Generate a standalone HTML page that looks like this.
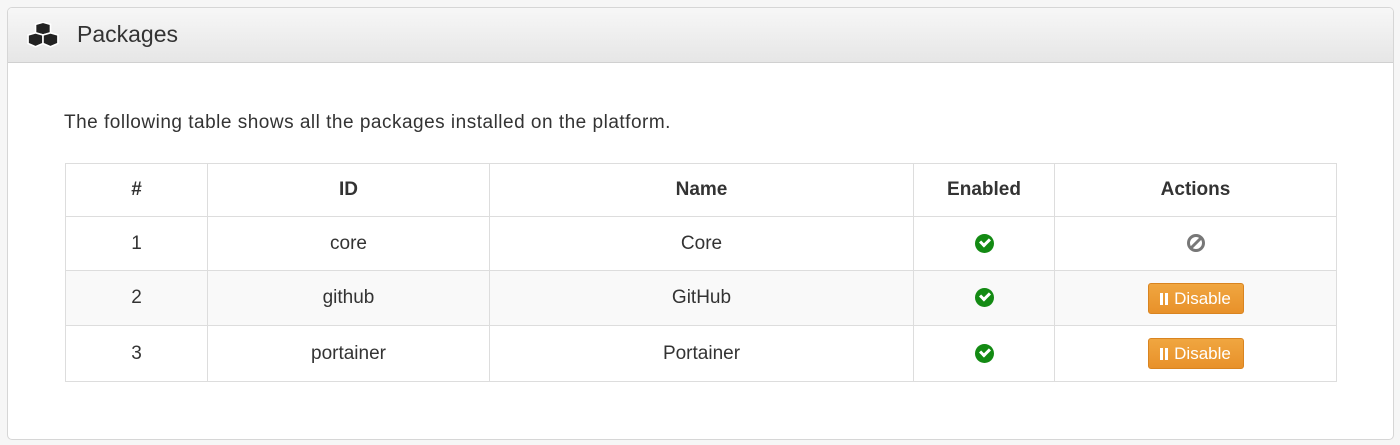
<!DOCTYPE html>
<html><head><style>
*{box-sizing:border-box;margin:0;padding:0}
body{width:1400px;height:445px;background:#f6f6f6;font-family:"Liberation Sans",sans-serif;color:#333;position:relative;overflow:hidden}
.panel{position:absolute;left:7px;top:7px;width:1387px;height:433px;border:1px solid #d6d6d6;border-radius:5px;background:#fff;overflow:hidden}
.hd{height:55px;background:linear-gradient(#f7f7f7,#e6e6e6);border-bottom:1px solid #d0d0d0;position:relative}
.hd .t{position:absolute;left:69px;top:13px;font-size:23px;color:#333}
.intro{position:absolute;left:56px;top:104px;font-size:19px;letter-spacing:0.5px;color:#333}
table{position:absolute;left:57px;top:155px;border-collapse:collapse;font-size:19px}
td,th{border:1px solid #ddd;text-align:center;vertical-align:middle}
th{height:53px;font-weight:bold}
tr.r td{height:54px}
tr.s td{background:#f9f9f9;height:55px}
tr.u td{height:56px}
.btn{display:inline-block;width:96px;height:31px;line-height:29px;background:linear-gradient(#f0a640,#e8912a);border:1px solid #d98420;border-radius:3px;color:#fff;font-size:17px}
.pz{display:inline-block;width:3px;height:12px;background:#fff;margin-right:2px;vertical-align:-1px}
.chk{display:inline-block;width:19px;height:19px;border-radius:50%;background:#138a13;vertical-align:middle;position:relative}
.chk:after{content:"";position:absolute;left:5px;top:4px;width:7px;height:4px;border-left:3px solid #fff;border-bottom:3px solid #fff;transform:rotate(-45deg)}
</style></head><body>
<div class="panel">
<div class="hd">
<svg style="position:absolute;left:19px;top:14px" width="32" height="26" viewBox="0 0 30 24"><g fill="#222" stroke="#fff" stroke-width="1.5"><path d="M8 2 L15 0 L22 2 L22 10 L15 12 L8 10Z"/><path d="M1 12 L8 10 L15 12 L15 20 L8 23 L1 20Z"/><path d="M15 12 L22 10 L29 12 L29 20 L22 23 L15 20Z"/></g></svg>
<div class="t">Packages</div></div>
<div class="intro">The following table shows all the packages installed on the platform.</div>
<table>
<tr><th style="width:142px">#</th><th style="width:282px">ID</th><th style="width:424px">Name</th><th style="width:141px">Enabled</th><th style="width:282px">Actions</th></tr>
<tr class="r"><td>1</td><td>core</td><td>Core</td><td><span class="chk"></span></td><td><svg width="20" height="20" viewBox="0 0 20 20" style="vertical-align:middle"><circle cx="10" cy="10" r="7.5" fill="none" stroke="#777" stroke-width="3"/><line x1="5" y1="15" x2="15" y2="5" stroke="#777" stroke-width="3"/></svg></td></tr>
<tr class="s"><td>2</td><td>github</td><td>GitHub</td><td><span class="chk"></span></td><td><span class="btn"><span class="pz"></span><span class="pz" style="margin-right:6px"></span>Disable</span></td></tr>
<tr class="u"><td>3</td><td>portainer</td><td>Portainer</td><td><span class="chk"></span></td><td><span class="btn"><span class="pz"></span><span class="pz" style="margin-right:6px"></span>Disable</span></td></tr>
</table>
</div>
</body></html>
